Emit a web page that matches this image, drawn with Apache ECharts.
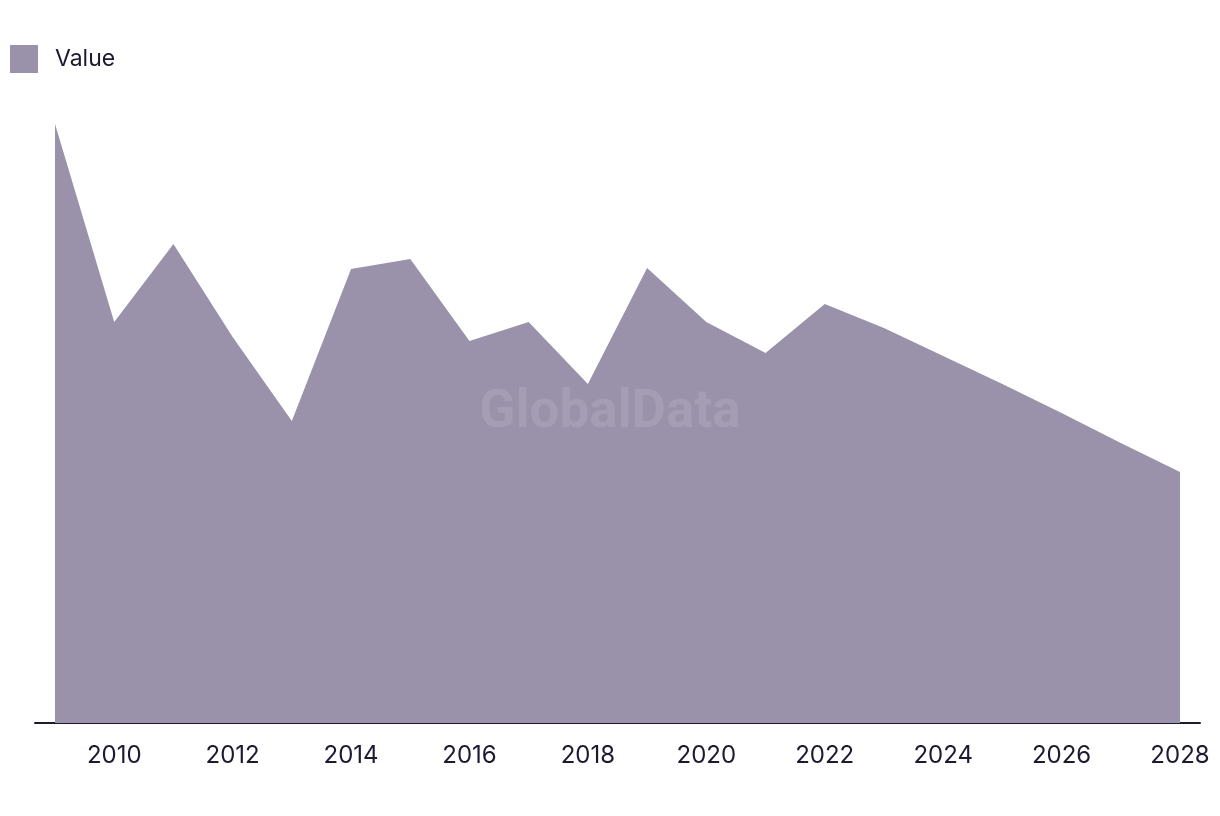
<!DOCTYPE html>
<html>
<head>
<meta charset="utf-8">
<title>Value</title>
<script src="https://cdn.jsdelivr.net/npm/echarts@6/dist/echarts.min.js"></script>
<style>
  html, body { margin: 0; padding: 0; background: #fff; }
  #chart { width: 1220px; height: 816px; }
</style>
</head>
<body>
<div id="chart"></div>
<script>
// data
const years = [2009, 2010, 2011, 2012, 2013, 2014, 2015, 2016, 2017, 2018,
  2019, 2020, 2021, 2022, 2023, 2024, 2025, 2026, 2027, 2028]
const values = [59.9, 40.1, 47.9, 38.6, 30.2, 45.4, 46.4, 38.2, 40.1, 33.9,
  45.5, 40.1, 37.0, 41.9, 39.5, 36.7, 33.9, 31.0, 28.0, 25.1]
const tickYears = [2010, 2012, 2014, 2016, 2018, 2020, 2022, 2024, 2026, 2028]

const areaColor = '#9a91aa'
const textColor = '#1c1a30'

const chart = echarts.init(document.getElementById('chart'))

chart.setOption({
  animation: false,
  textStyle: { fontFamily: 'Inter, Roboto, sans-serif' },
  legend: {
    left: 10,
    top: 45,
    padding: 0,
    icon: 'rect',
    itemWidth: 28,
    itemHeight: 28,
    textStyle: {
      color: textColor,
      fontSize: 23,
      padding: [0, 0, 0, 12]
    },
    data: ['Value']
  },
  grid: {
    left: 35,
    right: 20,
    top: 103,
    bottom: 93
  },
  xAxis: {
    type: 'value',
    min: 2008.662,
    max: 2028.338,
    splitLine: { show: false },
    axisTick: { show: false },
    axisLine: {
      show: true,
      lineStyle: { color: textColor, width: 2 }
    },
    axisLabel: {
      customValues: tickYears,
      color: textColor,
      fontSize: 24,
      margin: 21,
      formatter: v => String(v)
    }
  },
  yAxis: {
    type: 'value',
    min: 0,
    max: 62,
    show: false,
    splitLine: { show: false }
  },
  graphic: [{
    type: 'text',
    left: 'center',
    top: 387,
    z: 100,
    style: {
      text: 'GlobalData',
      fontSize: 53,
      fontWeight: 'bold',
      fontFamily: 'Roboto, sans-serif',
      fill: '#a59db3'
    }
  }],
  series: [{
    name: 'Value',
    type: 'line',
    symbol: 'none',
    itemStyle: { color: areaColor },
    lineStyle: { width: 0 },
    areaStyle: { color: areaColor, opacity: 1 },
    data: years.map((y, i) => [y, values[i]])
  }]
})
</script>
</body>
</html>
